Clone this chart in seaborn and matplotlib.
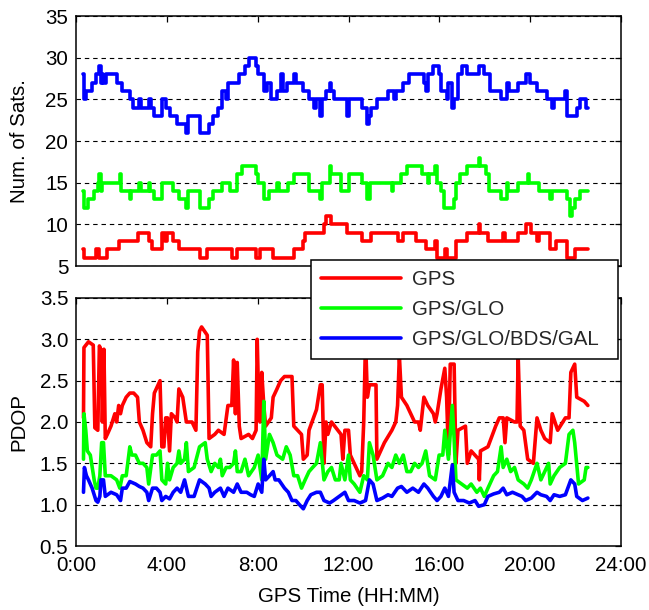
import numpy as np
import pandas as pd
import matplotlib
matplotlib.use("Agg")
import matplotlib.pyplot as plt
import seaborn as sns

systems = ["GPS", "GPS/GLO", "GPS/GLO/BDS/GAL"]
colors = ["#FF0000", "#00FF00", "#0000FF"]
x_ticks = [0, 4, 8, 12, 16, 20, 24]
x_ticklabels = ["0:00", "4:00", "8:00", "12:00", "16:00", "20:00", "24:00"]
end_time = 22.54

# ---- number of satellites (step series: change times in hours, values) ----
sats_gps_t = [0.33, 0.36, 0.88, 1.0, 1.38, 1.88, 2.71, 3.2, 3.35, 3.78, 3.9, 4.0, 4.28, 4.53,
              5.44, 5.78, 6.86, 7.1, 7.93, 8.1, 8.68, 9.59, 10.01, 10.1, 10.92, 11.0, 11.25,
              11.92, 12.58, 13.0, 14.16, 14.41, 14.99, 15.4, 15.82, 15.88, 16.24, 16.32, 16.73,
              17.23, 17.73, 17.8, 18.14, 18.81, 18.89, 19.47, 19.8, 20.05, 20.3, 20.4, 20.88,
              21.13, 21.63, 21.96]
sats_gps_v = [7, 6, 7, 6, 7, 8, 9, 8, 7, 9, 8, 9, 8, 7,
              6, 7, 6, 7, 6, 7, 6, 7, 8, 9, 10, 11, 10,
              9, 8, 9, 8, 9, 8, 7, 8, 6, 7, 6, 8,
              9, 10, 9, 8, 9, 8, 9, 10, 9, 8, 9, 7,
              8, 6, 7]

sats_glo_t = [0.33, 0.36, 0.55, 0.8, 0.96, 1.03, 1.08, 1.15, 1.93, 1.97, 2.37, 2.42, 2.79, 2.85,
              3.2, 3.25, 3.45, 3.78, 4.28, 4.53, 4.86, 4.93, 5.44, 5.86, 6.03, 6.44, 6.77, 7.1,
              7.3, 7.93, 8.02, 8.27, 8.52, 8.85, 8.95, 9.35, 9.59, 10.26, 10.76, 10.82, 11.17,
              11.23, 11.67, 12.0, 12.58, 12.83, 12.93, 13.91, 13.98, 14.33, 14.57, 15.24, 15.49,
              15.55, 15.82, 15.88, 16.07, 16.2, 16.65, 16.73, 16.9, 17.23, 17.73, 17.8, 18.06,
              18.2, 18.72, 18.97, 19.03, 19.47, 19.89, 19.95, 20.38, 20.88, 20.97, 21.63, 21.75,
              21.85, 21.96, 22.21]
sats_glo_v = [14, 12, 13, 14, 15, 16, 14, 15, 16, 14, 13, 14, 15, 14,
              15, 14, 13, 15, 14, 13, 12, 14, 12, 13, 14, 15, 14, 16,
              17, 16, 15, 13, 14, 15, 14, 15, 16, 14, 13, 15, 17,
              16, 14, 16, 15, 13, 15, 14, 15, 16, 17, 16, 15,
              16, 17, 15, 14, 12, 13, 15, 16, 17, 18, 17, 16,
              14, 13, 15, 14, 15, 16, 15, 14, 13, 14, 13, 11,
              12, 13, 14]

sats_all_t = [0.33, 0.36, 0.45, 0.71, 0.88, 1.0, 1.08, 1.13, 1.2, 1.3, 1.79, 2.04, 2.37, 2.5,
              2.79, 2.87, 3.2, 3.29, 3.45, 3.78, 3.95, 4.12, 4.45, 4.86, 4.95, 5.44, 5.86, 6.03,
              6.27, 6.44, 6.6, 6.7, 7.19, 7.44, 7.6, 7.93, 8.02, 8.27, 8.43, 8.6, 8.85, 9.01,
              9.1, 9.3, 9.59, 9.68, 10.01, 10.26, 10.5, 10.55, 10.76, 10.84, 11.0, 11.17, 11.25,
              11.34, 11.92, 12.0, 12.58, 12.83, 12.92, 13.0, 13.25, 13.74, 14.0, 14.1, 14.41,
              14.66, 15.32, 15.4, 15.49, 15.74, 15.99, 16.07, 16.32, 16.4, 16.57, 16.65, 16.82,
              16.98, 17.23, 17.73, 17.98, 18.23, 18.72, 18.97, 19.06, 19.47, 19.8, 19.97, 20.3,
              20.72, 20.97, 21.05, 21.55, 21.63, 22.05, 22.21, 22.46]
sats_all_v = [28, 25, 26, 27, 28, 29, 27, 28, 27, 28, 27, 26, 25, 24,
              25, 24, 25, 24, 23, 25, 24, 23, 22, 21, 23, 21, 22, 23,
              24, 26, 25, 27, 28, 29, 30, 29, 28, 26, 27, 25, 26, 28,
              26, 27, 28, 27, 26, 25, 24, 25, 23, 25, 26, 27, 26,
              25, 23, 25, 24, 22, 23, 24, 25, 26, 25, 26, 27,
              28, 27, 26, 28, 29, 28, 26, 25, 27, 24, 25, 28,
              29, 28, 29, 28, 26, 25, 27, 26, 27, 28, 27, 26,
              25, 24, 25, 26, 23, 24, 25, 24]

# ---- PDOP (time in hours, value) ----
pdop_gps_t = [0.33, 0.35, 0.55, 0.76, 0.83, 0.96, 1.03, 1.13, 1.16, 1.23, 1.29, 1.38, 1.54, 1.71,
              1.79, 1.88, 1.96, 2.04, 2.21, 2.37, 2.54, 2.71, 2.79, 2.95, 3.12, 3.29, 3.37, 3.45,
              3.62, 3.7, 3.78, 3.87, 3.95, 4.03, 4.12, 4.2, 4.37, 4.45, 4.53, 4.7, 4.86, 5.11,
              5.28, 5.36, 5.44, 5.53, 5.78, 5.86, 6.11, 6.27, 6.52, 6.69, 6.86, 6.94, 7.02, 7.1,
              7.19, 7.27, 7.6, 7.77, 7.93, 7.98, 8.05, 8.1, 8.18, 8.27, 8.35, 8.6, 8.68, 8.85,
              9.01, 9.18, 9.51, 9.59, 9.93, 10.01, 10.18, 10.26, 10.59, 10.76, 10.84, 10.92,
              11.01, 11.09, 11.25, 11.67, 11.75, 11.84, 12.0, 12.08, 12.42, 12.5, 12.58, 12.67,
              12.75, 12.83, 12.92, 13.21, 13.25, 13.58, 13.91, 14.08, 14.16, 14.24, 14.33, 14.57,
              14.91, 15.08, 15.16, 15.24, 15.32, 15.49, 15.74, 15.82, 15.9, 16.07, 16.24, 16.32,
              16.4, 16.48, 16.65, 16.73, 16.82, 17.15, 17.23, 17.4, 17.73, 17.76, 17.81, 18.14,
              18.48, 18.64, 18.81, 18.89, 18.97, 19.31, 19.42, 19.47, 19.56, 19.72, 19.89, 20.14,
              20.3, 20.47, 20.64, 20.88, 20.97, 21.21, 21.55, 21.71, 21.79, 21.96, 22.05, 22.38,
              22.54]
pdop_gps_v = [2.05, 2.9, 2.97, 2.93, 1.93, 1.9, 2.92, 2.85, 2.0, 2.88, 1.8, 1.85, 1.95, 2.1,
              2.0, 2.2, 2.1, 2.2, 2.3, 2.35, 2.35, 2.3, 2.0, 1.9, 1.75, 1.7, 2.1, 2.35,
              2.45, 2.5, 1.7, 1.7, 2.05, 2.05, 1.65, 2.1, 2.05, 2.0, 2.4, 2.3, 2.0, 2.0,
              1.9, 2.85, 3.1, 3.15, 3.05, 1.8, 1.85, 1.9, 1.85, 2.2, 2.2, 2.75, 2.1, 2.72,
              1.95, 1.8, 1.85, 1.8, 1.9, 3.0, 2.2, 2.0, 2.6, 2.2, 1.95, 2.05, 2.3, 2.4,
              2.5, 2.55, 2.55, 1.95, 1.85, 1.55, 1.6, 1.9, 2.15, 2.45, 2.45, 1.5,
              2.0, 1.85, 2.0, 1.85, 1.55, 1.9, 1.9, 1.6, 1.4, 1.35, 1.4, 2.0,
              3.0, 2.3, 2.45, 2.45, 1.55, 1.75, 1.9, 2.0, 2.2, 2.8, 2.3, 2.2,
              2.0, 2.0, 1.9, 2.1, 2.3, 2.2, 2.1, 2.0, 2.1, 2.4, 2.65, 2.3,
              1.6, 2.7, 2.7, 1.5, 1.9, 1.95, 1.5, 1.65, 1.55, 1.3, 1.65, 1.7,
              1.95, 2.05, 2.05, 1.75, 2.05, 2.0, 2.0, 2.8, 1.95, 1.9, 1.55, 1.5,
              2.05, 1.9, 1.8, 1.75, 2.1, 1.9, 2.05, 2.05, 2.6, 2.7, 2.3, 2.25,
              2.2]

pdop_glo_t = [0.33, 0.35, 0.43, 0.5, 0.63, 0.8, 0.88, 0.96, 1.05, 1.13, 1.21, 1.29, 1.54, 1.79,
              1.93, 2.04, 2.21, 2.37, 2.46, 2.62, 2.79, 2.95, 3.12, 3.2, 3.37, 3.54, 3.7, 3.78,
              3.95, 4.03, 4.12, 4.28, 4.45, 4.53, 4.61, 4.78, 4.86, 4.95, 5.2, 5.44, 5.69, 5.78,
              5.95, 6.11, 6.27, 6.36, 6.44, 6.61, 6.77, 6.94, 7.02, 7.1, 7.27, 7.44, 7.6, 7.85,
              8.02, 8.18, 8.27, 8.35, 8.52, 8.68, 8.85, 9.1, 9.26, 9.43, 9.59, 9.76, 9.93, 10.09,
              10.26, 10.42, 10.59, 10.76, 10.92, 11.09, 11.25, 11.42, 11.59, 11.67, 11.84, 12.0,
              12.08, 12.25, 12.5, 12.67, 12.83, 12.92, 13.08, 13.25, 13.5, 13.74, 13.91, 14.08,
              14.24, 14.41, 14.57, 14.74, 14.91, 15.08, 15.24, 15.4, 15.57, 15.82, 15.99, 16.15,
              16.24, 16.4, 16.57, 16.65, 16.73, 16.98, 17.23, 17.4, 17.65, 17.81, 17.98, 18.14,
              18.39, 18.56, 18.72, 18.81, 18.97, 19.14, 19.31, 19.47, 19.72, 19.89, 20.05, 20.3,
              20.47, 20.64, 20.81, 20.88, 21.05, 21.3, 21.55, 21.71, 21.88, 21.96, 22.13, 22.38,
              22.46, 22.54]
pdop_glo_v = [1.55, 2.1, 1.9, 1.65, 1.6, 1.3, 1.2, 1.2, 1.35, 1.75, 1.75, 1.35, 1.35, 1.3,
              1.2, 1.35, 1.35, 1.7, 1.6, 1.6, 1.5, 1.5, 1.45, 1.25, 1.6, 1.6, 1.65, 1.3,
              1.25, 1.5, 1.3, 1.45, 1.5, 1.65, 1.5, 1.55, 1.75, 1.4, 1.45, 1.7, 1.75, 1.55,
              1.4, 1.5, 1.45, 1.55, 1.35, 1.45, 1.45, 1.5, 1.65, 1.4, 1.4, 1.55, 1.35, 1.45,
              1.6, 1.3, 2.25, 1.55, 1.85, 1.75, 1.6, 1.55, 1.7, 1.6, 1.35, 1.35, 1.2, 1.3,
              1.4, 1.45, 1.5, 1.75, 1.3, 1.4, 1.45, 1.3, 1.3, 1.5, 1.3, 1.6,
              1.3, 1.25, 1.15, 1.35, 1.3, 1.75, 1.6, 1.3, 1.35, 1.5, 1.45, 1.6,
              1.5, 1.6, 1.4, 1.4, 1.5, 1.45, 1.5, 1.65, 1.35, 1.3, 1.6, 1.6,
              1.9, 1.55, 2.2, 1.8, 1.3, 1.25, 1.2, 1.25, 1.15, 1.2, 1.1, 1.2,
              1.35, 1.4, 1.7, 1.45, 1.55, 1.4, 1.45, 1.3, 1.25, 1.2, 1.3, 1.5,
              1.3, 1.4, 1.5, 1.25, 1.35, 1.45, 1.5, 1.85, 1.9, 1.75, 1.25, 1.3,
              1.45, 1.45]

pdop_all_t = [0.33, 0.37, 0.46, 0.55, 0.71, 0.88, 0.96, 1.05, 1.1, 1.21, 1.29, 1.54, 1.79, 1.96,
              2.04, 2.21, 2.37, 2.62, 2.79, 2.95, 3.12, 3.2, 3.37, 3.54, 3.7, 3.78, 3.95, 4.12,
              4.28, 4.45, 4.61, 4.78, 4.95, 5.2, 5.44, 5.69, 5.86, 5.95, 6.11, 6.36, 6.52, 6.69,
              6.94, 7.1, 7.27, 7.52, 7.69, 7.85, 8.02, 8.18, 8.27, 8.35, 8.52, 8.68, 8.77, 8.93,
              9.18, 9.35, 9.51, 9.68, 9.84, 10.01, 10.18, 10.34, 10.59, 10.76, 10.92, 11.17,
              11.34, 11.59, 11.84, 12.0, 12.25, 12.5, 12.75, 12.92, 13.08, 13.25, 13.5, 13.74,
              13.91, 14.16, 14.33, 14.57, 14.83, 15.08, 15.32, 15.49, 15.74, 15.9, 16.07, 16.24,
              16.4, 16.57, 16.65, 16.82, 17.07, 17.32, 17.57, 17.73, 17.98, 18.14, 18.39, 18.64,
              18.81, 18.97, 19.22, 19.47, 19.64, 19.8, 20.05, 20.3, 20.47, 20.72, 20.88, 21.05,
              21.3, 21.55, 21.79, 21.96, 22.05, 22.3, 22.54]
pdop_all_v = [1.15, 1.45, 1.35, 1.3, 1.2, 1.05, 1.03, 1.1, 1.3, 1.3, 1.1, 1.15, 1.12, 1.05,
              1.2, 1.2, 1.28, 1.25, 1.22, 1.2, 1.15, 1.05, 1.2, 1.2, 1.15, 1.05, 1.1, 1.07,
              1.15, 1.2, 1.15, 1.3, 1.1, 1.1, 1.3, 1.25, 1.2, 1.1, 1.15, 1.2, 1.1, 1.2,
              1.15, 1.25, 1.15, 1.15, 1.12, 1.1, 1.25, 1.15, 1.55, 1.3, 1.35, 1.4, 1.3, 1.3,
              1.2, 1.15, 1.05, 1.05, 1.0, 0.95, 1.05, 1.12, 1.15, 1.15, 1.05, 1.02,
              1.05, 1.1, 1.15, 1.05, 1.05, 1.02, 1.05, 1.3, 1.25, 1.05, 1.08, 1.12,
              1.1, 1.2, 1.22, 1.15, 1.2, 1.15, 1.25, 1.2, 1.1, 1.05, 1.1, 1.2,
              1.1, 1.48, 1.15, 1.05, 1.05, 1.02, 1.05, 0.98, 1.0, 1.1, 1.13, 1.15,
              1.2, 1.12, 1.15, 1.12, 1.1, 1.05, 1.08, 1.15, 1.12, 1.1, 1.05, 1.12,
              1.1, 1.12, 1.3, 1.25, 1.1, 1.05, 1.08]

# ---- build tables ----
def step_frame(ts, vs, name):
    t = list(ts) + [end_time]
    v = list(vs) + [vs[-1]]
    return pd.DataFrame({"time": t, "value": v, "system": name})

sats_df = pd.concat([
    step_frame(sats_gps_t, sats_gps_v, systems[0]),
    step_frame(sats_glo_t, sats_glo_v, systems[1]),
    step_frame(sats_all_t, sats_all_v, systems[2]),
], ignore_index=True)

pdop_df = pd.concat([
    pd.DataFrame({"time": pdop_gps_t, "value": pdop_gps_v, "system": systems[0]}),
    pd.DataFrame({"time": pdop_glo_t, "value": pdop_glo_v, "system": systems[1]}),
    pd.DataFrame({"time": pdop_all_t, "value": pdop_all_v, "system": systems[2]}),
], ignore_index=True)

sns.set_theme(style="white")
plt.rcParams["font.family"] = ["Liberation Sans", "DejaVu Sans"]
plt.rcParams["axes.linewidth"] = 1.1
plt.rcParams["xtick.direction"] = "in"
plt.rcParams["ytick.direction"] = "in"

FS = 14.8
LW = 2.6
palette = dict(zip(systems, colors))

fig = plt.figure(figsize=(6.49, 6.10), dpi=100)
ax1 = fig.add_axes([0.1171, 0.5639, 0.8398, 0.4098])
ax2 = fig.add_axes([0.1171, 0.1049, 0.8398, 0.4066])

sns.lineplot(data=sats_df, x="time", y="value", hue="system", hue_order=systems,
             palette=palette, estimator=None, sort=False, drawstyle="steps-post",
             linewidth=LW, legend=False, ax=ax1)
sns.lineplot(data=pdop_df, x="time", y="value", hue="system", hue_order=systems,
             palette=palette, estimator=None, sort=False,
             linewidth=LW, legend=False, ax=ax2)

for ax in (ax1, ax2):
    ax.set_xlim(0, 24)
    ax.set_xticks(x_ticks)
    ax.grid(False)
    ax.yaxis.grid(True, color="black", linestyle=(0, (4, 3.5)), linewidth=0.8)
    ax.tick_params(axis="both", which="both", direction="in", top=True, right=True,
                   length=4, width=0.9, colors="black", labelsize=FS)
    ax.tick_params(axis="y", pad=5.5)
    ax.tick_params(axis="x", pad=7.5)
    for s in ax.spines.values():
        s.set_color("black")
        s.set_linewidth(1.1)
        s.set_visible(True)
    ax.set_facecolor("white")

ax1.set_ylim(5, 35)
ax1.set_yticks([5, 10, 15, 20, 25, 30, 35])
ax1.set_xticklabels([])
ax1.set_xlabel("")
ax1.set_ylabel("Num. of Sats.", fontsize=FS, color="black")
ax1.yaxis.set_label_coords(-0.087, 0.5)

ax2.set_ylim(0.5, 3.5)
ax2.set_yticks([0.5, 1.0, 1.5, 2.0, 2.5, 3.0, 3.5])
ax2.set_yticklabels(["%.1f" % v for v in [0.5, 1.0, 1.5, 2.0, 2.5, 3.0, 3.5]])
ax2.set_xticklabels(x_ticklabels)
ax2.set_xlabel("GPS Time (HH:MM)", fontsize=FS, color="black", labelpad=8)
ax2.set_ylabel("PDOP", fontsize=FS, color="black")
ax2.yaxis.set_label_coords(-0.087, 0.5)

handles = ax2.lines[:3]
leg = fig.legend(handles, systems, loc="upper left",
                 bbox_to_anchor=(0.4792, 0.3934, 0.4730, 0.1803),
                 bbox_transform=fig.transFigure, mode="expand",
                 fontsize=FS, frameon=True, fancybox=False, framealpha=1,
                 edgecolor="black", handlelength=3.9, handletextpad=0.5,
                 borderpad=0.5, labelspacing=0.52, borderaxespad=0)
leg.get_frame().set_linewidth(1.1)
leg.set_zorder(10)

fig.savefig("out.png", dpi=100, facecolor="white")
